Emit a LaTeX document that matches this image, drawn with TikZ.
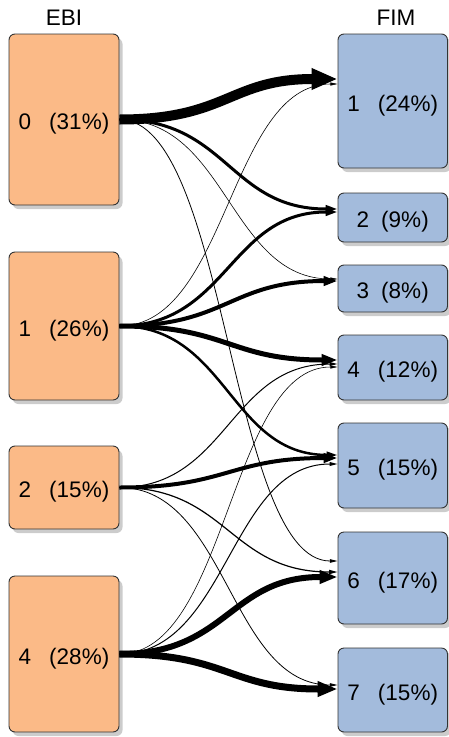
\documentclass[tikz,border=0pt]{standalone}
\usepackage{fontspec}
\setmainfont{Liberation Sans}
\usetikzlibrary{arrows.meta,shadows}
\definecolor{ebifill}{HTML}{FBBA87}
\definecolor{fimfill}{HTML}{A3BBDC}
\definecolor{boxline}{HTML}{333333}
\begin{document}
\begin{tikzpicture}[x=1pt,y=-1pt,
  every node/.style={font=\fontsize{22.5}{27}\selectfont},
  cluster/.style={rectangle, rounded corners=6pt, draw=boxline, line width=0.9pt,
    inner sep=0pt, text height=20pt, text depth=0pt, minimum width=110pt,
    drop shadow={shadow xshift=3.5pt, shadow yshift=-4pt, fill=black!20, opacity=1}},
  ebi/.style={cluster, fill=ebifill},
  fim/.style={cluster, fill=fimfill, minimum width=109.5pt},
  title/.style={inner sep=0pt, anchor=base},
  flow/.style={draw=black, -{Triangle[length=6pt 2, width=2pt 1.8]}}
]
\useasboundingbox (0,0) rectangle (448,737);

% column headings
\node[title] (tebi) at (64,25) {EBI};
\node[title] (tfim) at (396,25) {FIM};

% EBI clusters
\node[ebi, minimum height=171pt] (ebi0) at (64,119.5) {0\hspace{18pt}(31\%)};
\node[ebi, minimum height=148pt] (ebi1) at (64,326)   {1\hspace{18pt}(26\%)};
\node[ebi, minimum height=83pt]  (ebi2) at (64,487.5) {2\hspace{18pt}(15\%)};
\node[ebi, minimum height=156pt] (ebi4) at (64,654)   {4\hspace{18pt}(28\%)};

% FIM clusters
\node[fim, minimum height=134pt] (fim1) at (392.75,101)   {1\hspace{18pt}(24\%)};
\node[fim, minimum height=49pt]  (fim2) at (392.75,217.5) {2\hspace{12pt}(9\%)};
\node[fim, minimum height=47pt]  (fim3) at (392.75,288.5) {3\hspace{12pt}(8\%)};
\node[fim, minimum height=65pt]  (fim4) at (392.75,367.5) {4\hspace{18pt}(12\%)};
\node[fim, minimum height=85pt]  (fim5) at (392.75,465.5) {5\hspace{18pt}(15\%)};
\node[fim, minimum height=92pt]  (fim6) at (392.75,578)   {6\hspace{18pt}(17\%)};
\node[fim, minimum height=84pt]  (fim7) at (392.75,690)   {7\hspace{18pt}(15\%)};

% flows
\def\c{108}
\draw[flow, line width=10pt]  (ebi0.east) .. controls +(\c,0) and +(-\c,0) .. ([yshift=22pt]fim1.west);
\draw[flow, line width=0.6pt] (ebi1.east) .. controls +(\c,0) and +(-\c,0) .. ([yshift=17pt]fim1.west);
\draw[flow, line width=3pt]   (ebi0.east) .. controls +(\c,0) and +(-\c,0) .. ([yshift=8.5pt]fim2.west);
\draw[flow, line width=3pt]   (ebi1.east) .. controls +(\c,0) and +(-\c,0) .. ([yshift=5.5pt]fim2.west);
\draw[flow, line width=0.6pt] (ebi0.east) .. controls +(\c,0) and +(-\c,0) .. ([yshift=9.5pt]fim3.west);
\draw[flow, line width=4pt]   (ebi1.east) .. controls +(\c,0) and +(-\c,0) .. ([yshift=7.5pt]fim3.west);
\draw[flow, line width=5pt]   (ebi1.east) .. controls +(\c,0) and +(-\c,0) .. ([yshift=7.5pt]fim4.west);
\draw[flow, line width=1pt]   (ebi2.east) .. controls +(\c,0) and +(-\c,0) .. ([yshift=3.5pt]fim4.west);
\draw[flow, line width=0.6pt] (ebi4.east) .. controls +(\c,0) and +(-\c,0) .. ([yshift=0.5pt]fim4.west);
\draw[flow, line width=2.5pt] (ebi1.east) .. controls +(\c,0) and +(-\c,0) .. ([yshift=10.5pt]fim5.west);
\draw[flow, line width=4pt]   (ebi2.east) .. controls +(\c,0) and +(-\c,0) .. ([yshift=7.5pt]fim5.west);
\draw[flow, line width=1pt]   (ebi4.east) .. controls +(\c,0) and +(-\c,0) .. ([yshift=1.5pt]fim5.west);
\draw[flow, line width=0.8pt] (ebi0.east) .. controls +(\c,0) and +(-\c,0) .. ([yshift=17pt]fim6.west);
\draw[flow, line width=1.2pt] (ebi2.east) .. controls +(\c,0) and +(-\c,0) .. ([yshift=6pt]fim6.west);
\draw[flow, line width=6pt]   (ebi4.east) .. controls +(\c,0) and +(-\c,0) .. ([yshift=1pt]fim6.west);
\draw[flow, line width=0.8pt] (ebi2.east) .. controls +(\c,0) and +(-\c,0) .. ([yshift=5pt]fim7.west);
\draw[flow, line width=7pt]   (ebi4.east) .. controls +(\c,0) and +(-\c,0) .. ([yshift=1pt]fim7.west);
\end{tikzpicture}
\end{document}
